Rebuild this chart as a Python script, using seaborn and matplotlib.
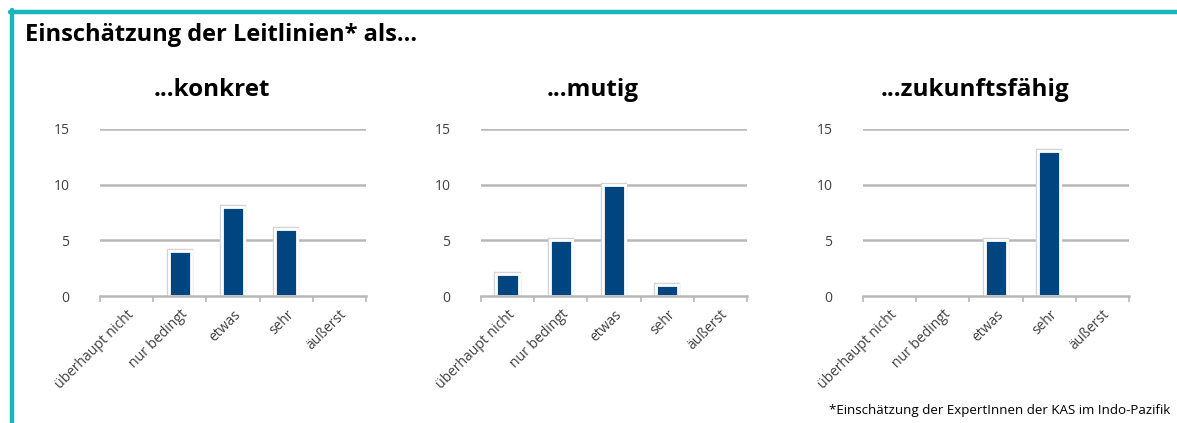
import matplotlib
matplotlib.use("Agg")
import matplotlib.pyplot as plt
from matplotlib.lines import Line2D
import seaborn as sns
import pandas as pd

sns.set_theme(style="white")
plt.rcParams['font.family'] = ['Open Sans', 'DejaVu Sans']

categories = ["überhaupt nicht", "nur bedingt", "etwas", "sehr", "äußerst"]
konkret = [0, 4, 8, 6, 0]
mutig = [2, 5, 10, 1, 0]
zukunftsfaehig = [0, 0, 5, 13, 0]
panel_titles = ["...konkret", "...mutig", "...zukunftsfähig"]
yticks = [0, 5, 10, 15]

BAR = "#00457F"
GRID = "#b8b8b8"
TEAL = "#19B6BC"

fig = plt.figure(figsize=(11.77, 4.23), dpi=100)
fig.patch.set_facecolor("white")

lefts = [100 / 1177, 481 / 1177, 863 / 1177]
width = 266 / 1177
bottom = 1 - 296 / 423
height = (296 - 129) / 423

series = [konkret, mutig, zukunftsfaehig]
for left, vals, title in zip(lefts, series, panel_titles):
    ax = fig.add_axes([left, bottom, width, height])
    df = pd.DataFrame({"cat": categories, "val": vals})
    sns.barplot(data=df, x="cat", y="val", ax=ax, color=BAR, width=0.42,
                edgecolor="#d4d4d4", linewidth=3.2, saturation=1, zorder=3)
    sns.barplot(data=df, x="cat", y="val", ax=ax, color=BAR, width=0.42,
                edgecolor="white", linewidth=2.0, saturation=1, zorder=4)
    for p in ax.patches:
        if p.get_height() == 0:
            p.set_visible(False)
    ax.set_xlim(-0.5, 4.5)
    ax.set_ylim(0, 15)
    ax.set_yticks(yticks)
    ax.set_yticklabels([str(v) for v in yticks], fontsize=10, color="#404040")
    for v in yticks[1:]:
        ax.axhline(v, color=GRID, lw=1.8, zorder=1)
    for s in ["top", "right", "left"]:
        ax.spines[s].set_visible(False)
    ax.spines["bottom"].set_color(GRID)
    ax.spines["bottom"].set_linewidth(1.8)
    ax.spines["bottom"].set_zorder(5)
    ax.set_xticks(range(len(categories)))
    ax.set_xticklabels(categories, rotation=45, ha="right", rotation_mode="anchor",
                       fontsize=10, color="#404040")
    ax.set_xticks([i - 0.5 for i in range(len(categories) + 1)], minor=True)
    ax.tick_params(axis="x", which="major", length=0, pad=8)
    ax.tick_params(axis="x", which="minor", length=4, color=GRID, width=1.2, bottom=True)
    ax.tick_params(axis="y", length=0, pad=22)
    ax.set_xlabel("")
    ax.set_ylabel("")
    ax.grid(False)
    ax.set_title(title, fontsize=17.5, fontweight="bold", color="black",
                 x=0.421, pad=24)

fig.text(25 / 1177, 1 - 35 / 423, "Einschätzung der Leitlinien* als...",
         fontsize=17, fontweight="bold", ha="left", va="center", color="black")
fig.text(1170 / 1177, 1 - 410 / 423, "*Einschätzung der ExpertInnen der KAS im Indo-Pazifik",
         fontsize=9.6, ha="right", va="center", color="black")

fig.add_artist(Line2D([10 / 1177, 1.0], [1 - 12 / 423, 1 - 12 / 423],
                      color=TEAL, lw=3.2, transform=fig.transFigure))
fig.add_artist(Line2D([12 / 1177, 12 / 1177], [0, 1 - 10 / 423],
                      color=TEAL, lw=3.2, transform=fig.transFigure))

fig.savefig("out.png", dpi=100, facecolor="white")
